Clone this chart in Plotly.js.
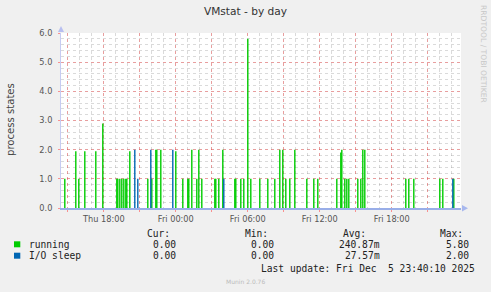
<!DOCTYPE html>
<html>
<head>
<meta charset="utf-8">
<script src="https://cdn.plot.ly/plotly-3.0.1.min.js"></script>
<style>html,body{margin:0;padding:0;background:#f0f0f0;}#chart{width:491px;height:292px;}</style>
</head>
<body>
<div id="chart"></div>
<script>
// ---- data (5-minute samples with non-zero values; all other samples are 0) ----
const runningTimes = [
 '2025-12-04 14:45','2025-12-04 15:40','2025-12-04 15:55','2025-12-04 16:25','2025-12-04 17:20','2025-12-04 17:55',
 '2025-12-04 19:05','2025-12-04 19:10','2025-12-04 19:20','2025-12-04 19:30','2025-12-04 19:40','2025-12-04 19:50',
 '2025-12-04 19:55','2025-12-04 20:10','2025-12-04 21:40','2025-12-04 22:00','2025-12-04 22:20','2025-12-04 22:25',
 '2025-12-04 22:45',
 '2025-12-05 00:00','2025-12-05 00:35','2025-12-05 01:00','2025-12-05 01:05','2025-12-05 01:20','2025-12-05 01:45',
 '2025-12-05 01:55','2025-12-05 02:10','2025-12-05 03:15','2025-12-05 03:20','2025-12-05 03:35','2025-12-05 03:55',
 '2025-12-05 04:55','2025-12-05 05:00','2025-12-05 05:25','2025-12-05 05:40','2025-12-05 06:00','2025-12-05 06:15',
 '2025-12-05 07:00','2025-12-05 07:40','2025-12-05 08:15','2025-12-05 08:40','2025-12-05 08:55','2025-12-05 09:10',
 '2025-12-05 09:30','2025-12-05 09:55','2025-12-05 10:55','2025-12-05 11:30','2025-12-05 11:50','2025-12-05 13:25',
 '2025-12-05 13:45','2025-12-05 13:50','2025-12-05 14:05','2025-12-05 14:15','2025-12-05 14:25','2025-12-05 15:10',
 '2025-12-05 15:25','2025-12-05 15:35','2025-12-05 15:45','2025-12-05 19:10','2025-12-05 19:25','2025-12-05 19:50',
 '2025-12-05 22:00','2025-12-05 22:15','2025-12-05 23:10'
];
const runningValues = [
 1.0,1.95,1.0,1.95,1.95,2.9,
 1.0,1.0,1.0,1.0,1.0,1.0,
 1.0,1.95,1.0,1.0,2.0,2.0,
 2.0,
 1.95,1.0,1.0,1.0,2.0,1.0,
 2.0,1.0,1.0,1.0,1.0,2.0,
 1.0,1.0,1.0,1.0,5.8,1.0,
 1.0,1.0,1.0,2.0,2.0,1.0,
 1.0,2.0,1.0,1.0,1.0,1.0,
 1.9,2.0,1.0,1.0,1.0,1.0,
 1.0,2.0,2.0,1.0,1.0,1.0,
 1.0,1.0,1.0
];
const ioTimes = ['2025-12-04 20:35','2025-12-04 20:50','2025-12-04 21:55','2025-12-04 23:45','2025-12-05 04:00','2025-12-05 23:05'];
const ioValues = [2.0,1.0,2.0,2.0,1.0,1.0];

const seriesNames = ['running','I/O sleep'];
const seriesColors = ['#00cc00','#0066b3'];
const statHeaders = ['Cur:','Min:','Avg:','Max:'];
const statCur = ['0.00','0.00'];
const statMin = ['0.00','0.00'];
const statAvg = ['240.87m','27.57m'];
const statMax = ['5.80','2.00'];

const xTickVals = ['2025-12-04 15:00','2025-12-04 18:00','2025-12-04 21:00','2025-12-05 00:00','2025-12-05 03:00',
                   '2025-12-05 06:00','2025-12-05 09:00','2025-12-05 12:00','2025-12-05 15:00','2025-12-05 18:00','2025-12-05 21:00'];
const xTickText = ['','Thu 18:00','','Fri 00:00','','Fri 06:00','','Fri 12:00','','Fri 18:00',''];
const yTickVals = [0,1,2,3,4,5,6];
const yTickText = ['0.0','1.0','2.0','3.0','4.0','5.0','6.0'];
const xRange = ['2025-12-04 14:26','2025-12-05 23:46'];

const titleText = 'VMstat - by day';
const yTitle = 'process states';
const lastUpdate = 'Last update: Fri Dec \u00a05 23:40:10 2025';
const version = 'Munin 2.0.76';
const sideText = 'RRDTOOL / TOBI OETIKER';

// ---- layout helpers (pixel -> paper) ----
const L = 61, T = 33, W = 400, H = 175;
const PX = x => (x - L) / W;
const PY = y => (T + H - y) / H;

const barW = 7 * 60 * 1000;
const traces = [
  {type:'bar', x:runningTimes, y:runningValues, width:runningTimes.map(()=>barW), name:seriesNames[0],
   marker:{color:seriesColors[0], line:{width:0}}, hoverinfo:'skip'},
  {type:'bar', x:ioTimes, y:ioValues, width:ioTimes.map(()=>barW), name:seriesNames[1],
   marker:{color:seriesColors[1], line:{width:0}}, hoverinfo:'skip'}
];

const mono = {family:'DejaVu Sans Mono', size:9.6, color:'#222'};
const ann = [];
ann.push({xref:'paper', yref:'paper', x:PX(10.3), y:PY(119.7), text:yTitle, textangle:-90, showarrow:false,
          font:{family:'DejaVu Sans', size:10.1, color:'#444'}, xanchor:'center', yanchor:'middle'});
ann.push({xref:'paper', yref:'paper', x:PX(484), y:PY(54), text:sideText, textangle:90, showarrow:false,
          font:{family:'DejaVu Sans', size:7.6, color:'#c8c8c8'}, xanchor:'center', yanchor:'middle'});
const headerRight = [171.5, 269.5, 367.5, 464.5];
statHeaders.forEach((h,i)=>ann.push({xref:'paper', yref:'paper', x:PX(headerRight[i]), y:PY(233.3), text:h,
   showarrow:false, font:mono, xanchor:'right', yanchor:'middle'}));
const rowY = [244.3, 255.7];
const colRight = [177.5, 276, 382, 470.5];
const cols = [statCur, statMin, statAvg, statMax];
const shapes = [];
seriesNames.forEach((n,r)=>{
  ann.push({xref:'paper', yref:'paper', x:PX(26.5), y:PY(rowY[r]), text:n, showarrow:false, font:mono,
            xanchor:'left', yanchor:'middle'});
  cols.forEach((c,i)=>ann.push({xref:'paper', yref:'paper', x:PX(colRight[i]), y:PY(rowY[r]), text:c[r],
            showarrow:false, font:mono, xanchor:'right', yanchor:'middle'}));
  shapes.push({type:'rect', xref:'paper', yref:'paper', x0:PX(14), x1:PX(20.3), y0:PY(rowY[r]+3), y1:PY(rowY[r]-3),
               fillcolor:seriesColors[r], line:{width:0}});
});
ann.push({xref:'paper', yref:'paper', x:PX(476.5), y:PY(268.7), text:lastUpdate, showarrow:false, font:mono,
          xanchor:'right', yanchor:'middle'});
ann.push({xref:'paper', yref:'paper', x:PX(245), y:PY(281.3), text:version, showarrow:false,
          font:{family:'DejaVu Sans', size:6, color:'#bbbbbb'}, xanchor:'center', yanchor:'middle'});

// axis arrows
shapes.push({type:'path', xref:'paper', yref:'paper', line:{width:0}, fillcolor:'#b8bff0',
  path:`M ${PX(58)},${PY(32)} L ${PX(64)},${PY(32)} L ${PX(61)},${PY(26)} Z`});
shapes.push({type:'path', xref:'paper', yref:'paper', line:{width:0}, fillcolor:'#a8b8ee',
  path:`M ${PX(462)},${PY(205)} L ${PX(462)},${PY(211.5)} L ${PX(468)},${PY(208.2)} Z`});

const layout = {
  width:491, height:292,
  margin:{l:L, r:491-L-W, t:T, b:292-T-H, pad:0},
  paper_bgcolor:'#f0f0f0', plot_bgcolor:'#ffffff',
  showlegend:false, barmode:'overlay',
  title:{text:titleText, xref:'container', yref:'container', x:0.5, y:1-11/292, xanchor:'center', yanchor:'middle',
         font:{family:'DejaVu Sans', size:10.6, color:'#333'}},
  xaxis:{type:'date', range:xRange, tickmode:'array', tickvals:xTickVals, ticktext:xTickText,
         showgrid:true, gridcolor:'rgba(255,60,60,0.38)', griddash:'dot', gridwidth:1,
         minor:{dtick:3600000, tick0:'2025-12-04 00:00', showgrid:true, gridcolor:'rgba(140,140,140,0.32)', griddash:'dot', gridwidth:1},
         ticks:'outside', ticklen:2, tickcolor:'rgba(255,80,80,0.6)',
         showline:true, linecolor:'#99aee8', linewidth:1.5, zeroline:false, fixedrange:true,
         tickfont:{family:'DejaVu Sans', size:8.2, color:'#555'}, ticklabelstandoff:1},
  yaxis:{range:[0,6], tickmode:'array', tickvals:yTickVals, ticktext:yTickText,
         showgrid:true, gridcolor:'rgba(255,60,60,0.38)', griddash:'dot', gridwidth:1,
         minor:{dtick:0.2, tick0:0, showgrid:true, gridcolor:'rgba(140,140,140,0.32)', griddash:'dot', gridwidth:1},
         ticks:'outside', ticklen:2, tickcolor:'rgba(255,80,80,0.6)',
         showline:true, linecolor:'#c6cbf2', linewidth:1, zeroline:false, fixedrange:true,
         tickfont:{family:'DejaVu Sans', size:8.2, color:'#555'}, ticklabelstandoff:4},
  annotations:ann, shapes:shapes
};
Plotly.newPlot('chart', traces, layout, {displayModeBar:false, staticPlot:true});
</script>
</body>
</html>
